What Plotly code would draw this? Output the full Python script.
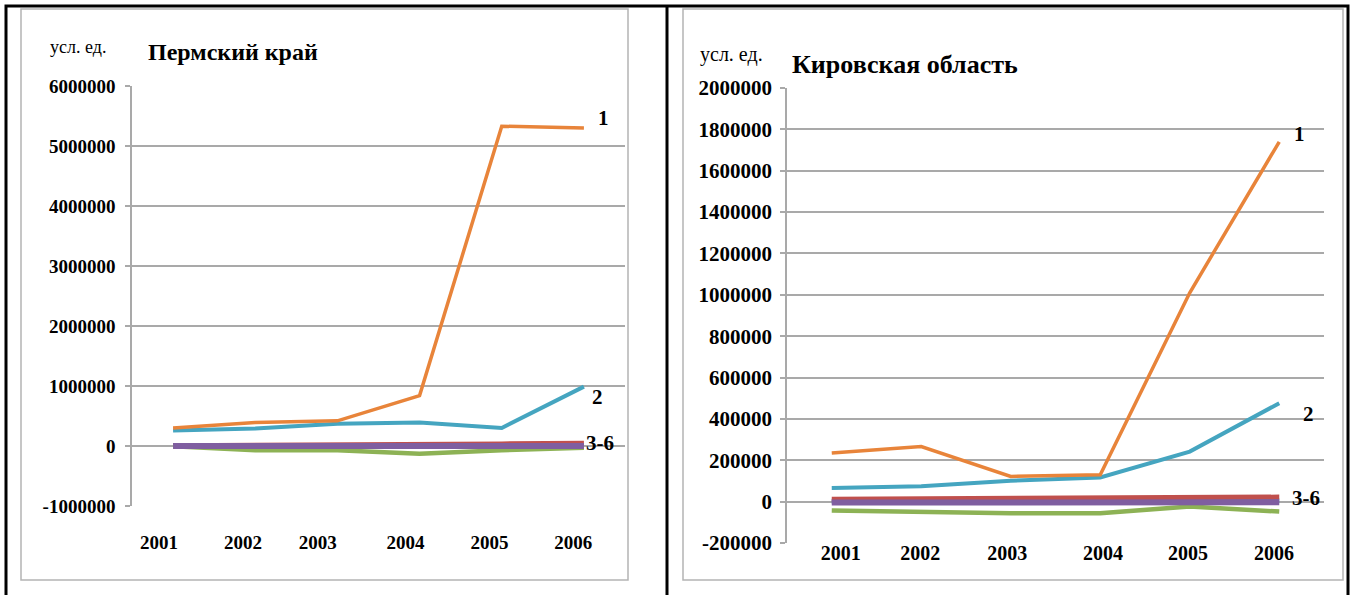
import plotly.graph_objects as go

years = [2001, 2002, 2003, 2004, 2005, 2006]

# Пермский край
perm_1 = [300000, 390000, 420000, 840000, 5330000, 5300000]
perm_2 = [260000, 290000, 370000, 390000, 300000, 990000]
perm_3 = [3000, 3000, 4000, 5000, 8000, 10000]
perm_4 = [5000, 8000, 10000, 15000, 35000, 45000]
perm_5 = [-5000, -70000, -70000, -130000, -70000, -30000]
perm_6 = [0, -3000, -2000, 0, 5000, 2000]

# Кировская область
kirov_1 = [235000, 266000, 122000, 130000, 1010000, 1740000]
kirov_2 = [66000, 74000, 101000, 117000, 242000, 476000]
kirov_3 = [2000, 2000, 3000, 3000, 3000, 4000]
kirov_4 = [12000, 13000, 17000, 18000, 18000, 22000]
kirov_5 = [-43000, -50000, -56000, -56000, -23000, -48000]
kirov_6 = [-4000, -4000, -3000, -3000, -3000, -3000]

perm_yticks = [-1000000, 0, 1000000, 2000000, 3000000, 4000000, 5000000, 6000000]
kirov_yticks = [-200000, 0, 200000, 400000, 600000, 800000, 1000000,
                1200000, 1400000, 1600000, 1800000, 2000000]

W, H = 1352, 595
FONT = "Liberation Serif, Times New Roman, serif"

colors = {
    "1": "#E8843A",
    "2": "#45A5C0",
    "3": "#4F81BD",
    "4": "#C0504D",
    "5": "#8DB255",
    "6": "#7F5EA0",
}
widths = {"1": 3.5, "2": 4, "3": 5, "4": 5, "5": 4.5, "6": 6}

fig = go.Figure()

def add_series(vals, name, xa, ya):
    fig.add_trace(go.Scatter(
        x=years, y=vals, mode="lines", name=name,
        line=dict(color=colors[name], width=widths[name]),
        xaxis=xa, yaxis=ya, showlegend=False, hoverinfo="skip",
    ))

for name, vals in [("3", perm_3), ("4", perm_4), ("5", perm_5), ("6", perm_6),
                   ("2", perm_2), ("1", perm_1)]:
    add_series(vals, name, "x", "y")
for name, vals in [("3", kirov_3), ("4", kirov_4), ("5", kirov_5), ("6", kirov_6),
                   ("2", kirov_2), ("1", kirov_1)]:
    add_series(vals, name, "x2", "y2")

def px(x):
    return x / W

def py(y):
    return 1 - y / H

grid = "#A9A9A9"

left_xlabel_pos = [2000.83, 2001.85, 2002.76, 2003.83, 2004.85, 2005.87]
right_xlabel_pos = [2001.10, 2001.99, 2002.96, 2004.03, 2004.98, 2005.94]

fig.update_layout(
    template="none",
    width=W, height=H, autosize=False,
    margin=dict(l=0, r=0, t=0, b=0, pad=0),
    paper_bgcolor="white", plot_bgcolor="rgba(0,0,0,0)",
    font=dict(family=FONT, color="black"),
    showlegend=False,
    xaxis=dict(
        domain=[px(132), px(625)], range=[2000.5, 2006.5],
        tickvals=left_xlabel_pos, ticktext=[str(y) for y in years],
        showgrid=False, zeroline=False, showline=False, automargin=False,
        ticks="outside", ticklen=19, tickcolor="rgba(0,0,0,0)",
        tickfont=dict(size=19, family=FONT, weight="bold", color="black"),
        anchor="y", fixedrange=True,
    ),
    yaxis=dict(
        domain=[py(506), py(86)], range=[-1000000, 6000000],
        tickvals=perm_yticks, ticktext=[str(v) for v in perm_yticks],
        showgrid=True, gridcolor=grid, gridwidth=1.5, automargin=False,
        zeroline=False, showline=True, linecolor=grid, linewidth=1.5,
        ticks="outside", ticklen=5, tickcolor=grid, tickwidth=1.5,
        ticklabelstandoff=6,
        tickfont=dict(size=19, family=FONT, weight="bold", color="black"),
        anchor="x", fixedrange=True,
    ),
    xaxis2=dict(
        domain=[px(787), px(1324)], range=[2000.5, 2006.5],
        tickvals=right_xlabel_pos, ticktext=[str(y) for y in years],
        showgrid=False, zeroline=False, showline=False, automargin=False,
        ticks="", ticklabelstandoff=-4,
        tickfont=dict(size=20, family=FONT, weight="bold", color="black"),
        anchor="y2", fixedrange=True,
    ),
    yaxis2=dict(
        domain=[py(543), py(88)], range=[-200000, 2000000],
        tickvals=kirov_yticks, ticktext=[str(v) for v in kirov_yticks],
        showgrid=True, gridcolor=grid, gridwidth=1.5, automargin=False,
        zeroline=False, showline=True, linecolor=grid, linewidth=1.5,
        ticks="outside", ticklen=5, tickcolor=grid, tickwidth=1.5,
        ticklabelstandoff=4,
        tickfont=dict(size=21, family=FONT, weight="bold", color="black"),
        anchor="x2", fixedrange=True,
    ),
)

shapes = [
    # outer black frame
    dict(type="rect", xref="paper", yref="paper",
         x0=px(6), x1=px(1348), y0=py(600), y1=py(6),
         line=dict(color="black", width=3)),
    dict(type="line", xref="paper", yref="paper",
         x0=px(667), x1=px(667), y0=py(600), y1=py(6),
         line=dict(color="black", width=3)),
    # inner chart boxes
    dict(type="rect", xref="paper", yref="paper",
         x0=px(21), x1=px(628), y0=py(580), y1=py(9),
         line=dict(color="#B4B4B4", width=1.5)),
    dict(type="rect", xref="paper", yref="paper",
         x0=px(683), x1=px(1343), y0=py(580), y1=py(9),
         line=dict(color="#B4B4B4", width=1.5)),
]
fig.update_layout(shapes=shapes)

ann = []
def paper_text(x, y, text, size, bold):
    ann.append(dict(xref="paper", yref="paper", x=px(x), y=py(y), text=text,
                    showarrow=False, xanchor="left", yanchor="middle",
                    font=dict(size=size, family=FONT, color="black",
                              weight="bold" if bold else "normal")))

paper_text(48, 47, "усл. ед.", 18, False)
paper_text(146, 52, "Пермский край", 24, True)
paper_text(698, 54, "усл. ед.", 20, False)
paper_text(790, 64, "Кировская область", 26, True)

def data_text(xa, ya, x, y, text):
    ann.append(dict(xref=xa, yref=ya, x=x, y=y, text=text, showarrow=False,
                    xanchor="center", yanchor="middle",
                    font=dict(size=21, family=FONT, color="black", weight="bold")))

data_text("x", "y", 2006.24, 5470000, "1")
data_text("x", "y", 2006.16, 820000, "2")
data_text("x", "y", 2006.2, 50000, "3-6")
data_text("x2", "y2", 2006.23, 1778000, "1")
data_text("x2", "y2", 2006.33, 424000, "2")
data_text("x2", "y2", 2006.30, 19000, "3-6")

fig.update_layout(annotations=ann)

fig.write_html("out.html", config={"displayModeBar": False},
               post_script="document.body.style.margin='0';")
